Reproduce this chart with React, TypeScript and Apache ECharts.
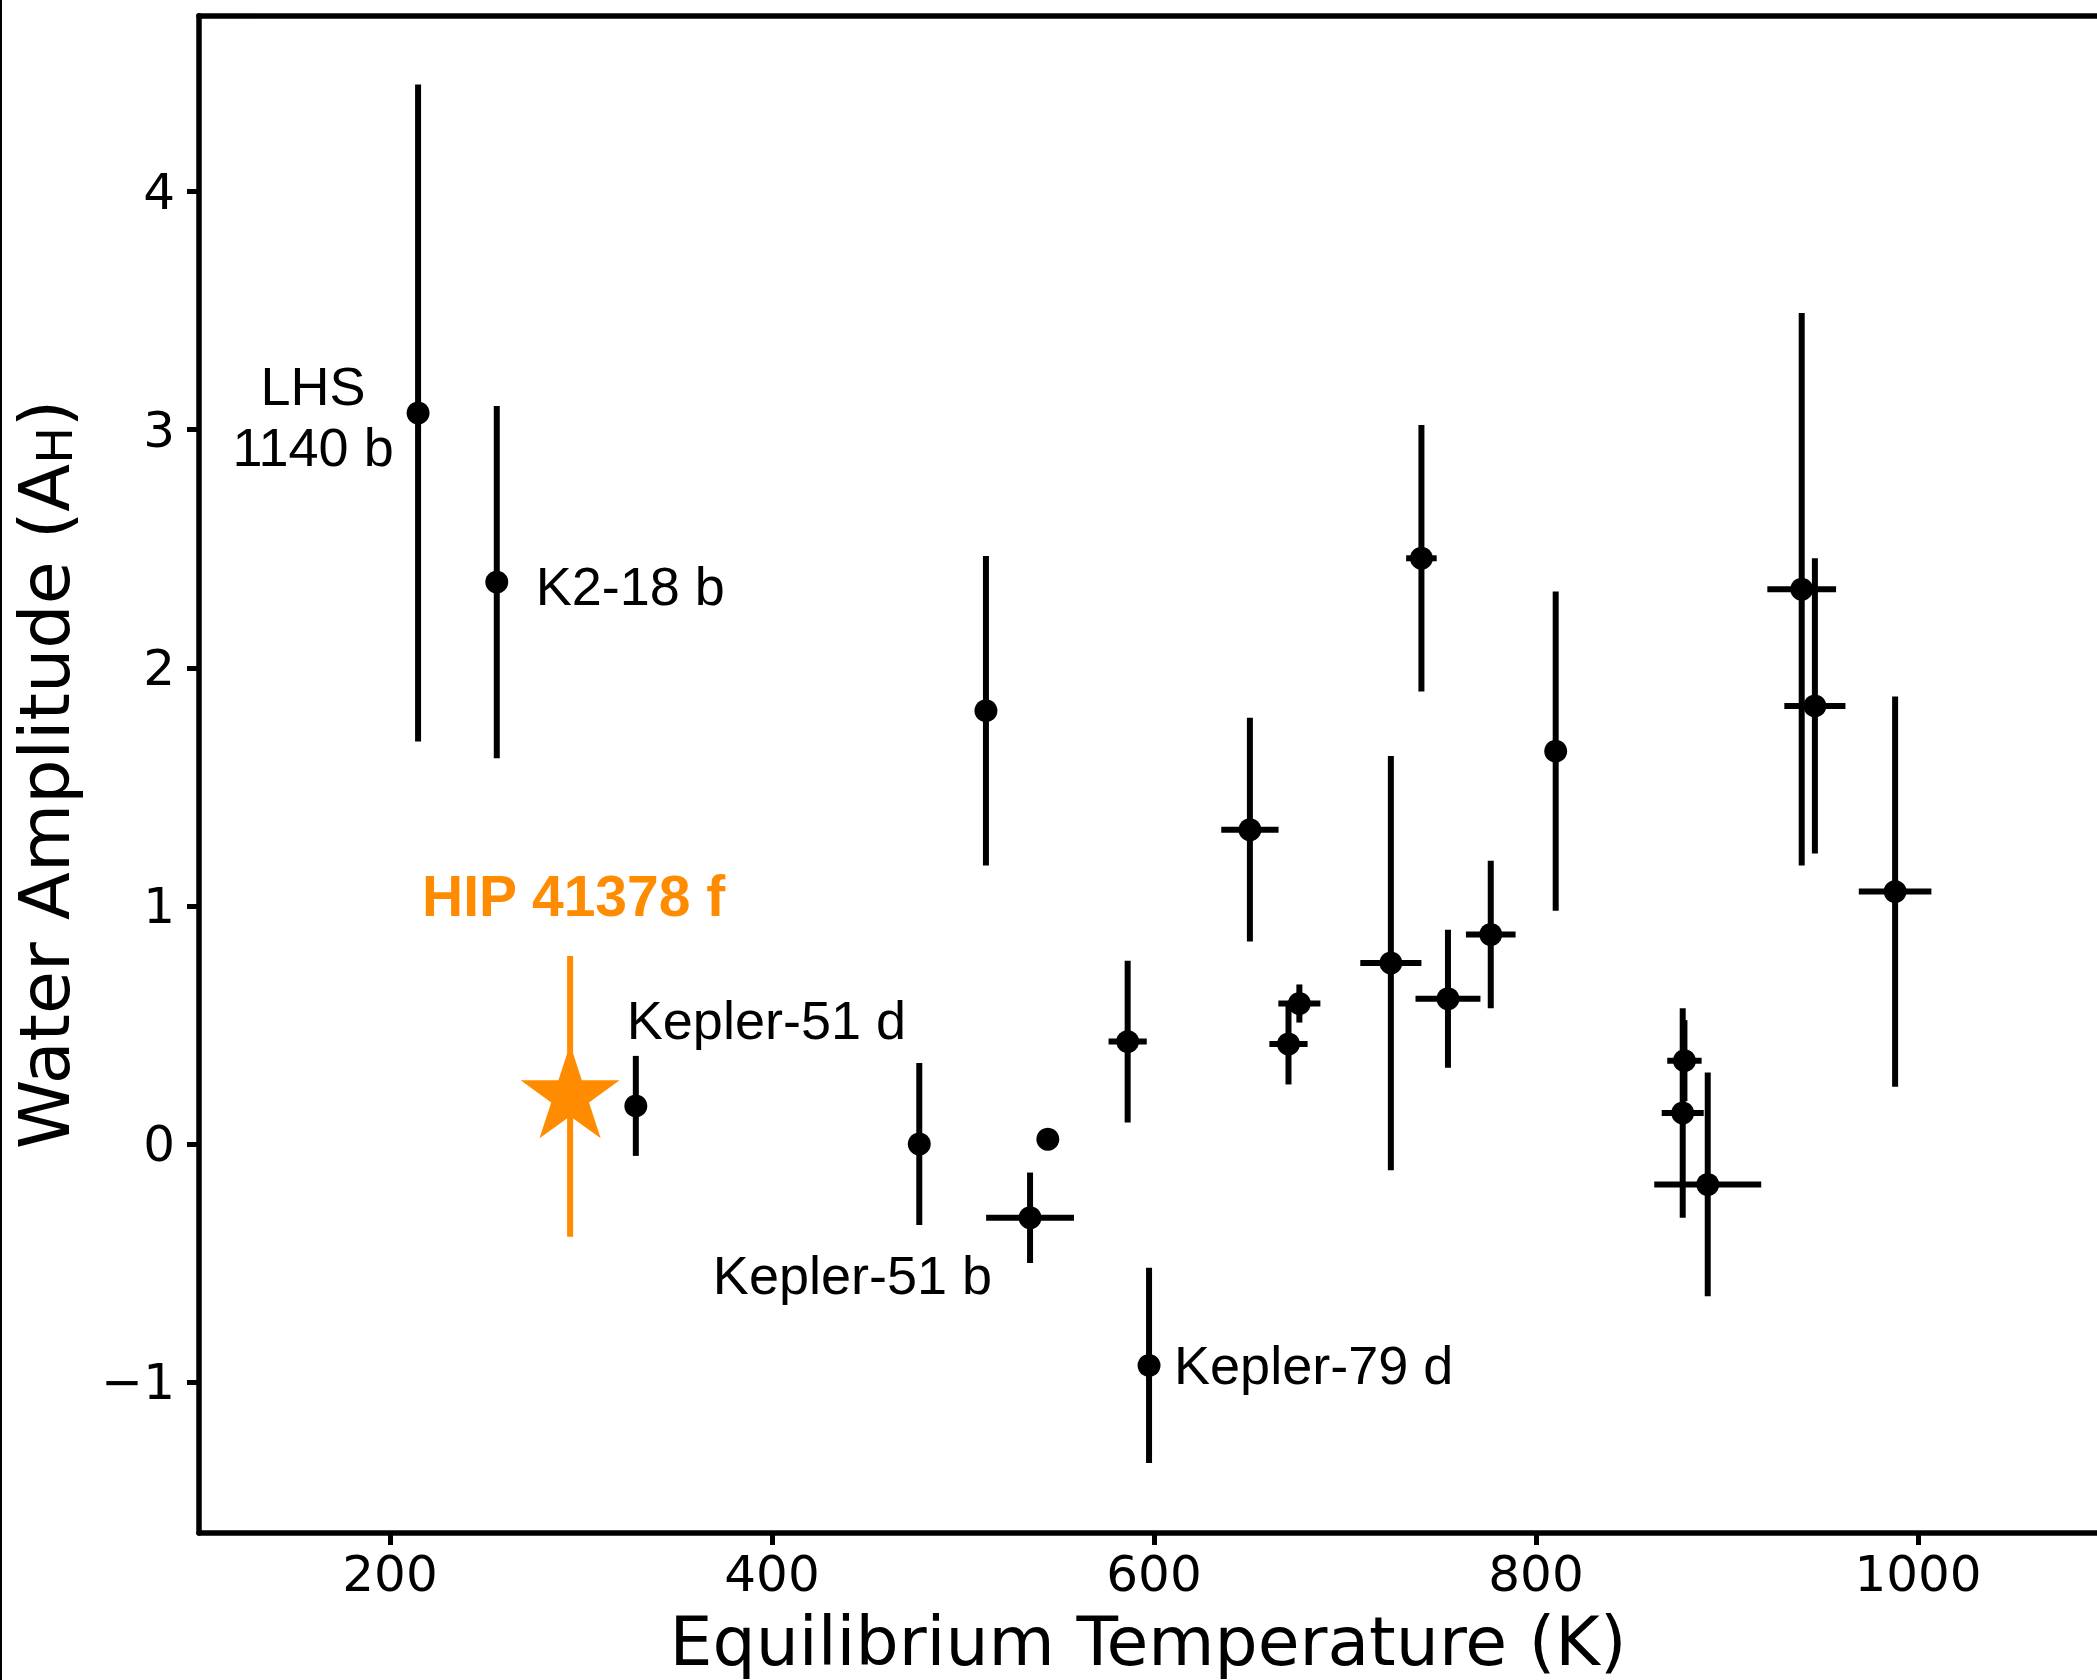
import React, { useEffect, useRef } from "react";
import * as echarts from "echarts";

// ---- data ----
const planetNames = [
  "LHS 1140 b", "K2-18 b", "Kepler-51 d", "", "", "Kepler-51 b", "", "", "Kepler-79 d",
  "", "", "", "", "", "", "", "", "", "", "", "", "", "",
];
const tempK = [
  214.7, 255.9, 328.7, 477.1, 512.0, 535.1, 544.4, 586.2, 597.4,
  650.2, 670.4, 676.1, 724.0, 740.0, 753.9, 776.3, 810.3, 876.8, 877.7, 889.9, 939.1, 946.0, 988.0,
];
const waterAmp = [
  3.07, 2.36, 0.16, 0.0, 1.82, -0.31, 0.02, 0.43, -0.93,
  1.32, 0.42, 0.59, 0.76, 2.46, 0.61, 0.88, 1.65, 0.13, 0.35, -0.17, 2.33, 1.84, 1.06,
];
const waterAmpErr = [
  1.38, 0.74, 0.21, 0.34, 0.65, 0.19, 0, 0.34, 0.41,
  0.47, 0.17, 0.08, 0.87, 0.56, 0.29, 0.31, 0.67, 0.44, 0.17, 0.47, 1.16, 0.62, 0.82,
];
const tempErr = [
  0, 0, 0, 0, 0, 23, 0, 10, 0,
  15, 10, 11, 16, 8, 17, 13, 0, 11, 9, 28, 18, 16, 19,
];

const hipName = "HIP 41378 f";
const hipTemp = [294.3];
const hipAmp = [0.2];
const hipAmpErr = [0.59];
const hipTempErr = [0];

const xTicks = [200, 400, 600, 800, 1000];
const yTicks = [-1, 0, 1, 2, 3, 4];

const STAR =
  "path://M0,-50L11.23,-15.45L47.55,-15.45L18.17,5.9L29.39,40.45L0,19.1L-29.39,40.45L-18.17,5.9L-47.55,-15.45L-11.23,-15.45Z";

const ORANGE = "#ff8c00";
const ANNOT_FONT = "'Liberation Sans', Arial, sans-serif";
const AXIS_FONT = "'DejaVu Sans', sans-serif";

const labelStyles: Record<string, any> = {
  "LHS 1140 b": { formatter: "LHS\n1140 b", align: "center", offset: [-105, 3], lineHeight: 61 },
  "K2-18 b": { align: "left", offset: [39, 4] },
  "Kepler-51 d": { align: "left", offset: [-9, -86] },
  "Kepler-51 b": { align: "right", offset: [-38, 57] },
  "Kepler-79 d": { align: "left", offset: [25, 0] },
};

function errRender(color: string) {
  return (params: any, api: any) => {
    const x = api.value(0);
    const y = api.value(1);
    const xe = api.value(2);
    const ye = api.value(3);
    const children: any[] = [];
    if (ye > 0) {
      const a = api.coord([x, y + ye]);
      const b = api.coord([x, y - ye]);
      children.push({
        type: "line",
        shape: { x1: a[0], y1: a[1], x2: b[0], y2: b[1] },
        style: { stroke: color, lineWidth: 6, lineCap: "butt", opacity: 1 },
      });
    }
    if (xe > 0) {
      const a = api.coord([x - xe, y]);
      const b = api.coord([x + xe, y]);
      children.push({
        type: "line",
        shape: { x1: a[0], y1: a[1], x2: b[0], y2: b[1] },
        style: { stroke: color, lineWidth: 6, lineCap: "butt", opacity: 1 },
      });
    }
    return { type: "group", children };
  };
}

export default function App() {
  const ref = useRef<HTMLDivElement>(null);
  useEffect(() => {
    if (!ref.current) return;
    const chart = echarts.init(ref.current, null, { renderer: "svg" });

    const errData = tempK.map((t, i) => [t, waterAmp[i], tempErr[i], waterAmpErr[i]]);
    const hipErrData = hipTemp.map((t, i) => [t, hipAmp[i], hipTempErr[i], hipAmpErr[i]]);

    const pointData = tempK.map((t, i) => {
      const name = planetNames[i];
      const ls = labelStyles[name];
      const item: any = { value: [t, waterAmp[i]], name };
      if (ls) {
        item.label = {
          show: true,
          position: "inside",
          verticalAlign: "middle",
          formatter: ls.formatter || name,
          align: ls.align,
          offset: ls.offset,
          lineHeight: ls.lineHeight || 60,
          color: "#000",
          opacity: 1,
          fontFamily: ANNOT_FONT,
          fontSize: 54,
        };
      }
      return item;
    });

    const hipData = hipTemp.map((t, i) => ({
      value: [t, hipAmp[i]],
      name: hipName,
      label: {
        show: true,
        position: "inside",
        align: "left",
        verticalAlign: "middle",
        offset: [-148, -195],
        formatter: hipName,
        color: ORANGE,
        opacity: 1,
        fontFamily: ANNOT_FONT,
        fontWeight: "bold",
        fontSize: 57,
      },
    }));

    const axisLineStyle = { color: "#000", width: 5.5 };

    chart.setOption({
      animation: false,
      backgroundColor: "#ffffff",
      grid: { left: 199, right: 0, top: 15.7, bottom: 147, containLabel: false },
      xAxis: [
        {
          type: "value",
          min: 100,
          max: 1093.7,
          position: "bottom",
          axisLine: { show: true, onZero: false, lineStyle: axisLineStyle },
          axisTick: {
            show: true,
            inside: false,
            length: 12,
            customValues: xTicks,
            lineStyle: { color: "#000", width: 5 },
          },
          axisLabel: {
            show: true,
            customValues: xTicks,
            margin: 16,
            color: "#000",
            fontFamily: AXIS_FONT,
            fontSize: 50,
            formatter: (v: number) => String(v),
          },
          splitLine: { show: false },
          name: "Equilibrium Temperature (K)",
          nameLocation: "middle",
          nameGap: 74,
          nameTextStyle: { color: "#000", fontFamily: AXIS_FONT, fontSize: 68 },
        },
        {
          type: "value",
          min: 100,
          max: 1093.7,
          position: "top",
          axisLine: { show: true, onZero: false, lineStyle: axisLineStyle },
          axisTick: { show: false },
          axisLabel: { show: false },
          splitLine: { show: false },
        },
      ],
      yAxis: [
        {
          type: "value",
          min: -1.634,
          max: 4.739,
          position: "left",
          axisLine: { show: true, onZero: false, lineStyle: axisLineStyle },
          axisTick: {
            show: true,
            inside: false,
            length: 12,
            customValues: yTicks,
            lineStyle: { color: "#000", width: 5 },
          },
          axisLabel: {
            show: true,
            customValues: yTicks,
            margin: 24,
            color: "#000",
            fontFamily: AXIS_FONT,
            fontSize: 50,
            formatter: (v: number) => String(v).replace("-", "\u2212"),
          },
          splitLine: { show: false },
          name: "Water Amplitude (A{sub|H})",
          nameLocation: "middle",
          nameRotate: 90,
          nameGap: 119,
          nameTextStyle: {
            color: "#000",
            fontFamily: AXIS_FONT,
            fontSize: 70,
            rich: {
              sub: {
                fontFamily: AXIS_FONT,
                fontSize: 49,
                color: "#000",
                verticalAlign: "bottom",
                padding: [19, 0, 0, 0],
              },
            },
          },
        },
      ],
      graphic: [
        {
          type: "rect",
          shape: { x: 0, y: 0, width: 2, height: 1680 },
          style: { fill: "#000" },
          silent: true,
        },
      ],
      series: [
        {
          type: "custom",
          name: "errors",
          renderItem: errRender("#000"),
          data: errData,
          encode: { x: 0, y: 1 },
          z: 2,
        },
        {
          type: "scatter",
          name: "planets",
          data: pointData,
          symbol: "circle",
          symbolSize: 23,
          itemStyle: { color: "#000", opacity: 1 },
          z: 3,
        },
        {
          type: "custom",
          name: "hip errors",
          renderItem: errRender(ORANGE),
          data: hipErrData,
          encode: { x: 0, y: 1 },
          z: 4,
        },
        {
          type: "scatter",
          name: hipName,
          data: hipData,
          symbol: STAR,
          symbolSize: [99, 94],
          symbolOffset: [0, -5],
          itemStyle: { color: ORANGE, opacity: 1 },
          z: 5,
        },
      ],
    });

    return () => chart.dispose();
  }, []);

  return (
    <div
      ref={ref}
      style={{ position: "fixed", left: 0, top: 0, width: 2097, height: 1680, background: "#fff" }}
    />
  );
}
